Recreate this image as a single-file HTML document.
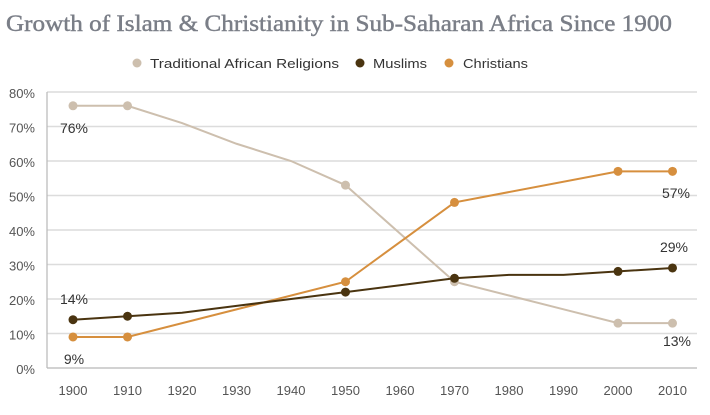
<!DOCTYPE html>
<html><head><meta charset="utf-8"><style>
html,body{margin:0;padding:0;background:#fff;}
svg{display:block;}
</style></head><body>
<svg width="710" height="415" viewBox="0 0 710 415" xmlns="http://www.w3.org/2000/svg">
<text x="6" y="31" font-family="Liberation Serif, serif" font-size="23.5" fill="#7a7e87" stroke="#7a7e87" stroke-width="0.45" textLength="666" lengthAdjust="spacingAndGlyphs">Growth of Islam &amp; Christianity in Sub-Saharan Africa Since 1900</text>
<g font-family="Liberation Sans, sans-serif" font-size="12.5" fill="#333">
<circle cx="137" cy="63" r="4.5" fill="#cdbfae"/>
<text x="150" y="68" textLength="189" lengthAdjust="spacingAndGlyphs">Traditional African Religions</text>
<circle cx="360" cy="63" r="4.5" fill="#4a3410"/>
<text x="373" y="68" textLength="54" lengthAdjust="spacingAndGlyphs">Muslims</text>
<circle cx="449" cy="63" r="4.5" fill="#d68f3e"/>
<text x="463" y="68" textLength="65" lengthAdjust="spacingAndGlyphs">Christians</text>
</g>
<g stroke="#dcdcdc" stroke-width="1.5">
<line x1="47" y1="92" x2="697" y2="92"/>
<line x1="47" y1="126.5" x2="697" y2="126.5"/>
<line x1="47" y1="161" x2="697" y2="161"/>
<line x1="47" y1="195.5" x2="697" y2="195.5"/>
<line x1="47" y1="230" x2="697" y2="230"/>
<line x1="47" y1="264.5" x2="697" y2="264.5"/>
<line x1="47" y1="299" x2="697" y2="299"/>
<line x1="47" y1="333.5" x2="697" y2="333.5"/>
</g>
<line x1="47" y1="92" x2="47" y2="368" stroke="#b8b8b8" stroke-width="1.2"/>
<line x1="47" y1="368" x2="697" y2="368" stroke="#b8b8b8" stroke-width="1.2"/>
<g font-family="Liberation Sans, sans-serif" font-size="13" fill="#555" text-anchor="end">
<text x="35" y="98">80%</text>
<text x="35" y="132.5">70%</text>
<text x="35" y="167">60%</text>
<text x="35" y="201.5">50%</text>
<text x="35" y="236">40%</text>
<text x="35" y="270.5">30%</text>
<text x="35" y="305">20%</text>
<text x="35" y="339.5">10%</text>
<text x="35" y="374">0%</text>
</g>
<g font-family="Liberation Sans, sans-serif" font-size="13" fill="#555" text-anchor="middle">
<text x="73" y="395">1900</text>
<text x="127.5" y="395">1910</text>
<text x="182" y="395">1920</text>
<text x="236.5" y="395">1930</text>
<text x="291" y="395">1940</text>
<text x="345.5" y="395">1950</text>
<text x="400" y="395">1960</text>
<text x="454.5" y="395">1970</text>
<text x="509" y="395">1980</text>
<text x="563.5" y="395">1990</text>
<text x="618" y="395">2000</text>
<text x="672.5" y="395">2010</text>
</g>
<polyline fill="none" stroke="#cdbfae" stroke-width="2" points="73,105.8 127.5,105.8 182,123.05 236.5,143.75 291,161 345.5,185.15 400,233.5 454.5,281.75 509,295.5 563.5,309.3 618,323.15 672.5,323.15"/>
<polyline fill="none" stroke="#d68f3e" stroke-width="2" points="73,336.95 127.5,336.95 345.5,281.75 454.5,202.4 618,171.35 672.5,171.35"/>
<polyline fill="none" stroke="#4a3410" stroke-width="2" points="73,319.7 127.5,316.25 182,312.8 236.5,305.9 291,299 345.5,292.1 400,285.2 454.5,278.3 509,274.85 563.5,274.85 618,271.4 672.5,267.95"/>
<g fill="#cdbfae">
<circle cx="73" cy="105.8" r="4.5"/><circle cx="127.5" cy="105.8" r="4.5"/><circle cx="345.5" cy="185.15" r="4.5"/><circle cx="454.5" cy="281.75" r="4.5"/><circle cx="618" cy="323.15" r="4.5"/><circle cx="672.5" cy="323.15" r="4.5"/>
</g>
<g fill="#d68f3e">
<circle cx="73" cy="336.95" r="4.5"/><circle cx="127.5" cy="336.95" r="4.5"/><circle cx="345.5" cy="281.75" r="4.5"/><circle cx="454.5" cy="202.4" r="4.5"/><circle cx="618" cy="171.35" r="4.5"/><circle cx="672.5" cy="171.35" r="4.5"/>
</g>
<g fill="#4a3410">
<circle cx="73" cy="319.7" r="4.5"/><circle cx="127.5" cy="316.25" r="4.5"/><circle cx="345.5" cy="292.1" r="4.5"/><circle cx="454.5" cy="278.3" r="4.5"/><circle cx="618" cy="271.4" r="4.5"/><circle cx="672.5" cy="267.95" r="4.5"/>
</g>
<g font-family="Liberation Sans, sans-serif" font-size="14" fill="#333" text-anchor="middle">
<text x="74" y="133">76%</text>
<text x="74" y="304">14%</text>
<text x="74" y="364">9%</text>
<text x="676" y="198">57%</text>
<text x="674" y="252">29%</text>
<text x="677" y="346">13%</text>
</g>
</svg>
</body></html>
